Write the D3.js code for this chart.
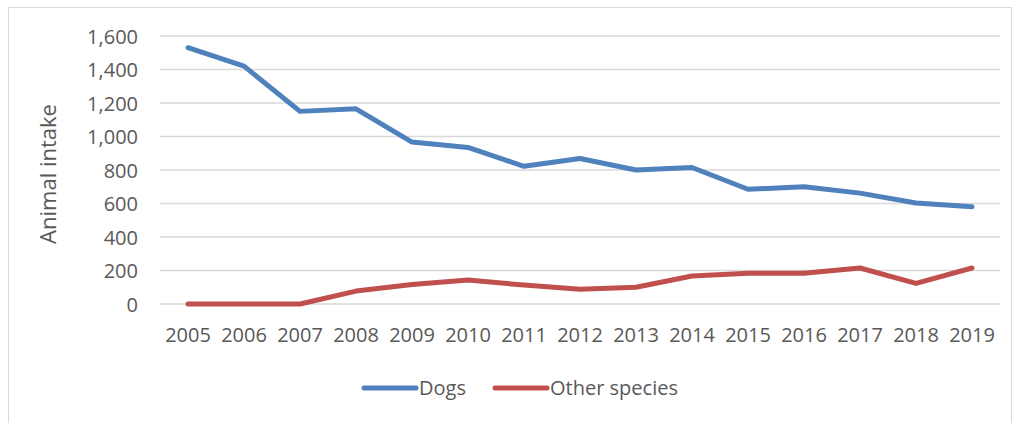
<!DOCTYPE html>
<html>
<head>
<meta charset="utf-8">
<script src="https://cdn.jsdelivr.net/npm/d3@7"></script>
<style>
  body { margin: 0; background: #fff; }
  text { font-family: "Open Sans", "Liberation Sans", sans-serif; fill: #595959; }
</style>
</head>
<body>
<svg id="chart" width="1016" height="423"></svg>
<script>
var years = ["2005", "2006", "2007", "2008", "2009", "2010", "2011", "2012", "2013", "2014", "2015", "2016", "2017", "2018", "2019"];
var dogs = [1530, 1420, 1150, 1165, 967, 935, 822, 869, 800, 815, 685, 700, 662, 603, 580];
var others = [0, 0, 0, 77, 117, 143, 113, 88, 100, 167, 183, 183, 215, 123, 215];
var yTicks = [0, 200, 400, 600, 800, 1000, 1200, 1400, 1600];

var svg = d3.select('#chart');
var plotLeft = 160, plotRight = 1000, plotTop = 36, plotBottom = 304;

svg.append('rect')
    .attr('x', 8.5).attr('y', 7.5)
    .attr('width', 1003).attr('height', 430)
    .attr('fill', 'none')
    .attr('stroke', '#d9d9d9');

var x = d3.scaleBand().domain(years).range([plotLeft, plotRight]);
var y = d3.scaleLinear().domain([0, 1600]).range([plotBottom, plotTop]);

var fmt = d3.format(',');

// gridlines
svg.append('g')
    .selectAll('line')
    .data(yTicks)
    .enter().append('line')
    .attr('x1', plotLeft).attr('x2', plotRight)
    .attr('y1', function (d) { return y(d); })
    .attr('y2', function (d) { return y(d); })
    .attr('stroke', '#d9d9d9')
    .attr('stroke-width', 1.3);

var yAxis = svg.append('g')
    .attr('transform', 'translate(' + (plotLeft - 22) + ',0)')
    .call(d3.axisLeft(y).tickValues(yTicks).tickFormat(fmt).tickSize(0));
yAxis.select('.domain').remove();
yAxis.selectAll('text')
    .attr('x', 0)
    .attr('dy', '0.35em')
    .style('font-size', '20px');

var xAxis = svg.append('g')
    .attr('transform', 'translate(0,' + plotBottom + ')')
    .call(d3.axisBottom(x).tickSize(0));
xAxis.select('.domain').remove();
xAxis.selectAll('text')
    .attr('y', 31)
    .attr('dy', '0.35em')
    .style('font-size', '20px');

svg.append('text')
    .attr('transform', 'translate(56,174) rotate(-90)')
    .attr('text-anchor', 'middle')
    .style('font-size', '22px')
    .text('Animal intake');

var line = d3.line()
    .x(function (d, i) { return x(years[i]) + x.bandwidth() / 2; })
    .y(function (d) { return y(d); });

var series = [
    { name: 'Dogs', values: dogs, color: '#4f81bd' },
    { name: 'Other species', values: others, color: '#c0504d' }
];

series.forEach(function (s) {
    svg.append('path')
        .datum(s.values)
        .attr('d', line)
        .attr('fill', 'none')
        .attr('stroke', s.color)
        .attr('stroke-width', 5)
        .attr('stroke-linecap', 'round')
        .attr('stroke-linejoin', 'round');
});

// legend
var legendX = [364, 495];
series.forEach(function (s, i) {
    var g = svg.append('g').attr('transform', 'translate(' + legendX[i] + ',388)');
    g.append('line')
        .attr('x1', 0).attr('x2', 52)
        .attr('stroke', s.color)
        .attr('stroke-width', 5)
        .attr('stroke-linecap', 'round');
    g.append('text')
        .attr('x', 55)
        .attr('dy', '0.35em')
        .style('font-size', '20px')
        .text(s.name);
});
</script>
</body>
</html>
